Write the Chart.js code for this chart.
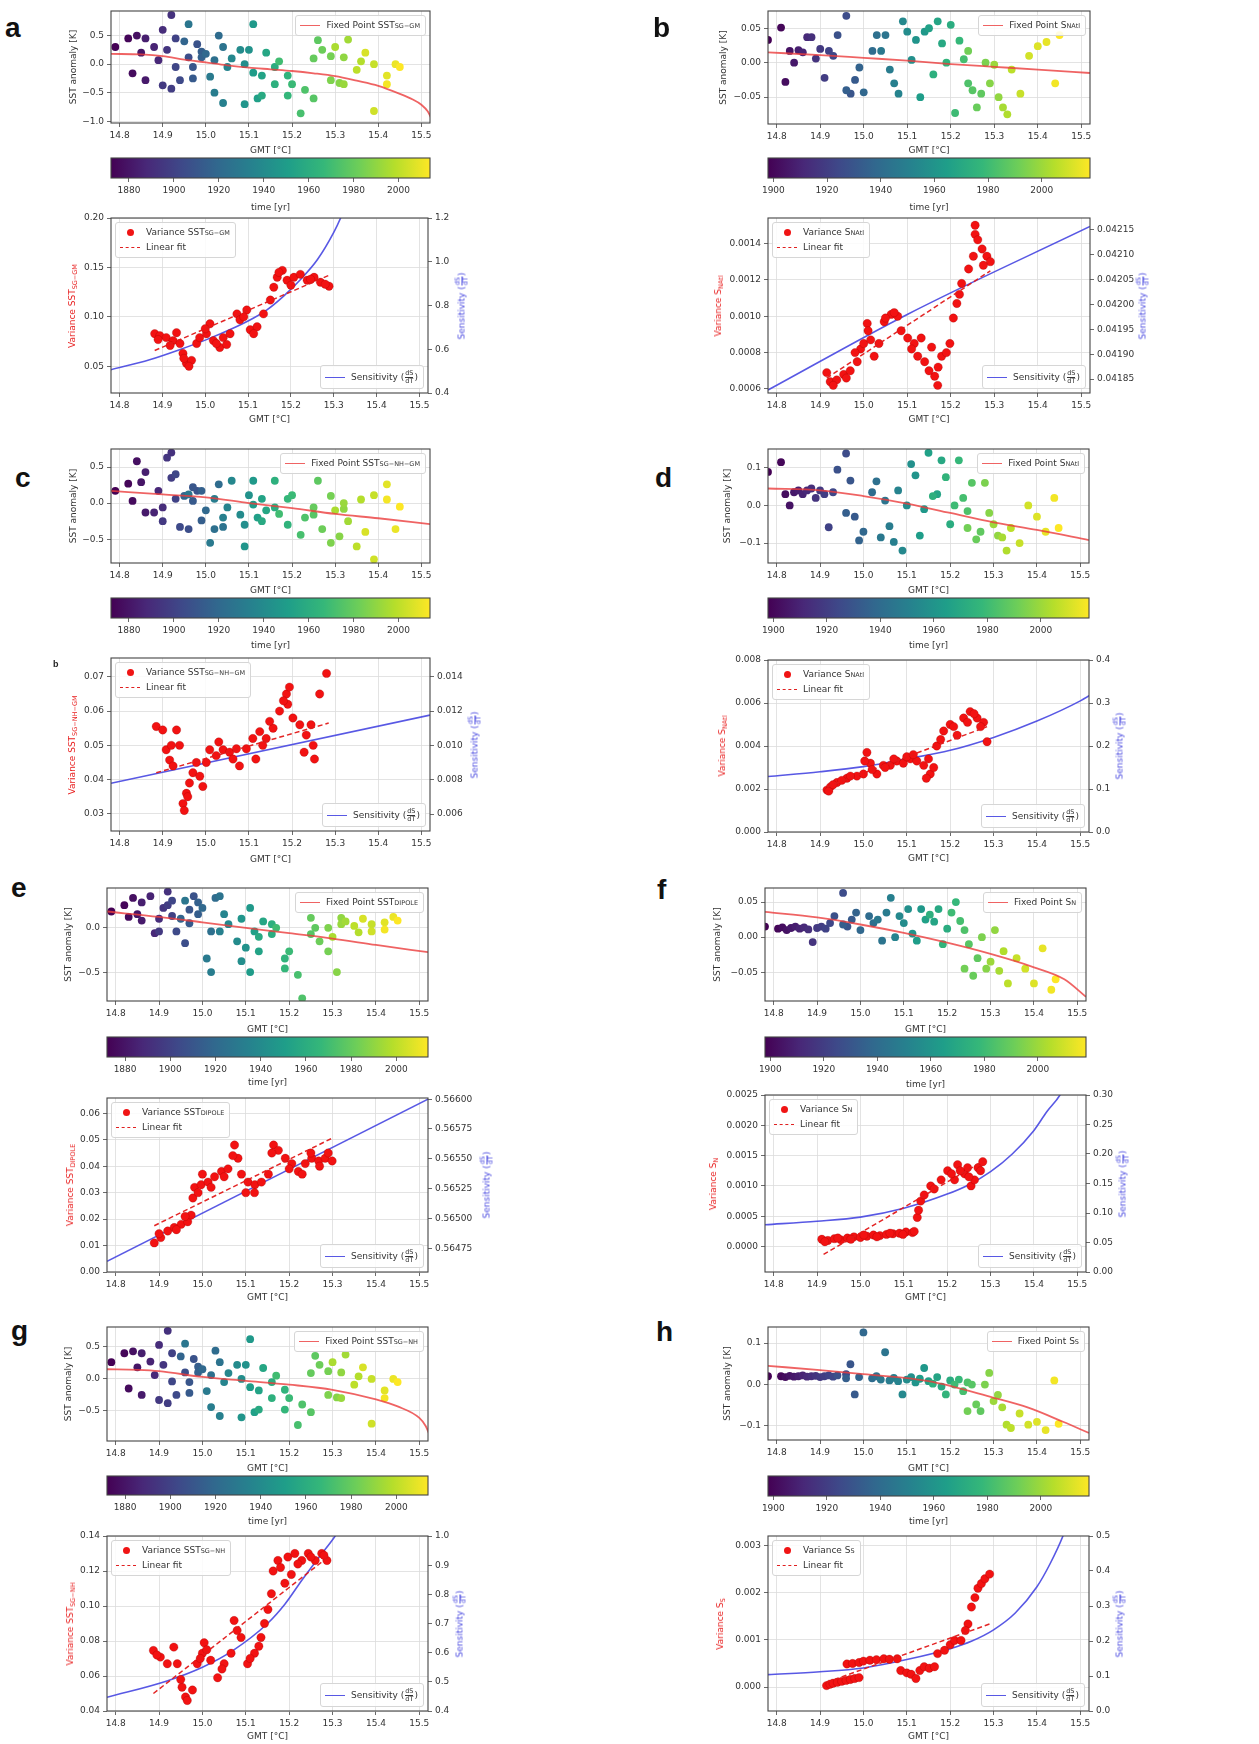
<!DOCTYPE html>
<html>
<head>
<meta charset="utf-8">
<title>Fixed point, variance and sensitivity vs GMT</title>
<script src="https://cdn.jsdelivr.net/npm/chart.js@4.4.1/dist/chart.umd.min.js"></script>
<style>
html,body{margin:0;padding:0;background:#fff}
body{position:relative;width:1259px;height:1744px;overflow:hidden;font-family:'DejaVu Sans',sans-serif;color:#333}
canvas{position:absolute}
.pl{position:absolute;font-family:'Liberation Sans',Arial,sans-serif;font-weight:bold;font-size:28px;line-height:28px;color:#111}
.sm{position:absolute;font-family:'Liberation Sans',Arial,sans-serif;font-weight:bold;font-size:9px;color:#222}
.yt{position:absolute;transform:translate(-50%,-50%) rotate(-90deg);white-space:nowrap;font-size:9px;line-height:12px}
.leg{position:absolute;background:rgba(255,255,255,0.85);border:1px solid #d6d6d6;border-radius:3px;padding:2px 5px 2px 4px;font-size:9px;line-height:11px;white-space:nowrap;color:#333}
.row{display:flex;align-items:center;min-height:15px}
.hd{width:20px;margin-right:6px;display:flex;justify-content:center;align-items:center;flex:none}
.ln{width:20px;height:0;border-top:1.8px solid rgba(235,60,60,0.8)}
.sl{width:20px;height:0;border-top:1.6px solid rgba(70,70,225,0.9)}
.dl{width:20px;height:0;border-top:1.6px dashed #e02020}
.dot{width:7px;height:7px;border-radius:50%;background:#f01414}
sub{font-size:6.5px;vertical-align:-2px;line-height:0}
.fr{display:inline-flex;flex-direction:column;align-items:center;vertical-align:middle;font-size:6.5px;line-height:7px;margin:0 1px}
.fr span:first-child{border-bottom:0.8px solid currentColor}
</style>
</head>
<body>
<script>
// ---------------- DATA ----------------
const gmtTicks = [14.8,14.9,15.0,15.1,15.2,15.3,15.4,15.5];
const yrTicksL = [1880,1900,1920,1940,1960,1980,2000];
const yrTicksR = [1900,1920,1940,1960,1980,2000];

const yearsL = [1872,1874,1876,1878,1880,1882,1884,1886,1888,1890,1892,1894,1896,1898,1900,1902,1904,1906,1908,1910,1912,1914,1916,1918,1920,1922,1924,1926,1928,1930,1932,1934,1936,1938,1940,1942,1944,1946,1948,1950,1952,1954,1956,1958,1960,1962,1964,1966,1968,1970,1972,1974,1976,1978,1980,1982,1984,1986,1988,1990,1992,1994,1996,1998,2000,2002,2004,2006,2008,2010,2012,2014];
const gmtL = [14.79,14.82,14.83,14.84,14.85,14.86,14.86,14.88,14.89,14.90,
  14.92,14.91,14.90,14.92,14.93,14.93,14.94,14.96,14.98,14.97,
  14.97,14.99,14.99,14.95,15.00,15.03,15.02,15.04,14.96,15.01,
  15.02,15.04,15.05,15.06,15.08,15.09,15.10,15.09,15.11,15.11,
  15.12,15.13,15.14,15.13,15.16,15.16,15.19,15.19,15.20,15.17,
  15.22,15.23,15.25,15.26,15.25,15.27,15.29,15.29,15.31,15.32,
  15.32,15.33,15.30,15.36,15.35,15.39,15.39,15.37,15.42,15.44,
  15.42,15.45];
const yearsR = [1898,1900,1902,1904,1906,1908,1910,1912,1914,1916,1918,1920,1922,1924,1926,1928,1930,1932,1934,1936,1938,1940,1942,1944,1946,1948,1950,1952,1954,1956,1958,1960,1962,1964,1966,1968,1970,1972,1974,1976,1978,1980,1982,1984,1986,1988,1990,1992,1994,1996,1998,2000,2002,2004,2006,2008,2010,2012,2014,2016,2018];
const gmtR = [14.78,14.81,14.82,14.83,14.84,14.85,14.86,14.87,14.88,14.89,
  14.90,14.91,14.92,14.93,14.96,14.94,14.97,14.98,14.96,14.99,
  15.00,15.02,15.03,15.05,15.04,15.06,15.07,15.08,15.09,15.10,
  15.11,15.12,15.14,15.13,15.15,15.17,15.18,15.20,15.16,15.19,
  15.22,15.21,15.23,15.24,15.25,15.27,15.26,15.24,15.28,15.29,
  15.31,15.30,15.32,15.33,15.34,15.36,15.38,15.40,15.42,15.44,
  15.45];

// SST / salinity anomalies (top panels)
const aSst = [0.30,0.45,-0.16,0.50,0.20,-0.28,0.45,0.30,0.07,0.60,
  0.86,0.25,-0.37,-0.43,0.45,-0.05,-0.28,0.12,0.35,-0.05,
  -0.25,0.22,0.12,0.40,0.18,0.50,0.07,0.30,0.70,-0.22,
  -0.50,-0.68,-0.05,0.10,0.25,0.00,0.25,-0.70,0.70,-0.15,
  -0.60,-0.20,0.20,-0.55,-0.05,-0.35,-0.20,-0.55,-0.35,0.05,
  -0.86,-0.45,-0.60,0.42,0.10,0.25,0.14,-0.28,-0.33,0.12,
  -0.35,0.43,0.30,0.05,-0.10,0.00,-0.82,0.20,-0.20,0.00,
  -0.35,-0.05];
const cSst = [0.17,0.27,0.03,0.58,0.29,-0.13,0.43,-0.13,0.17,-0.06,
  0.70,0.63,-0.25,0.35,0.06,0.40,-0.33,-0.36,0.17,0.22,
  0.03,-0.24,0.17,0.10,-0.10,0.26,-0.36,-0.33,0.12,-0.55,
  0.06,-0.20,-0.06,0.31,-0.16,-0.30,0.11,-0.60,0.31,-0.02,
  -0.20,0.06,-0.10,-0.25,-0.06,0.31,-0.30,0.06,0.11,-0.15,
  -0.44,-0.20,-0.16,0.31,-0.06,-0.36,0.10,-0.55,-0.46,-0.08,
  0.00,-0.25,-0.10,0.05,-0.60,0.11,-0.78,-0.40,0.26,-0.36,
  0.05,-0.05];
const eSst = [0.18,0.25,0.12,0.33,0.15,0.08,0.28,0.35,-0.06,0.10,
  0.40,0.22,-0.04,0.25,0.13,0.30,-0.04,-0.17,0.35,0.20,
  0.05,0.15,0.28,0.10,0.22,0.33,-0.04,0.35,0.30,-0.34,
  -0.49,-0.04,0.15,0.04,-0.15,-0.37,-0.22,0.10,0.22,-0.49,
  -0.04,-0.26,0.07,-0.10,-0.07,0.04,-0.34,-0.45,-0.26,0.00,
  -0.52,-0.78,-0.07,0.00,0.11,-0.15,-0.26,0.00,-0.49,0.11,
  0.04,0.07,-0.10,-0.05,0.02,0.04,-0.04,0.10,0.06,0.12,
  -0.02,0.08];
const gSst = [0.26,0.40,-0.15,0.43,0.18,-0.25,0.40,0.27,0.06,0.53,
  0.75,0.22,-0.33,-0.38,0.40,-0.04,-0.25,0.10,0.31,-0.05,
  -0.22,0.19,0.10,0.35,0.15,0.44,0.06,0.26,0.55,-0.19,
  -0.44,-0.58,-0.05,0.09,0.22,0.00,0.22,-0.60,0.62,-0.13,
  -0.52,-0.18,0.17,-0.48,-0.05,-0.30,-0.17,-0.48,-0.30,0.05,
  -0.72,-0.40,-0.52,0.36,0.09,0.22,0.12,-0.25,-0.29,0.10,
  -0.30,0.38,0.26,0.04,-0.09,0.00,-0.70,0.18,-0.18,0.00,
  -0.30,-0.05];
const bSst = [0.033,0.051,-0.028,0.017,0.000,0.018,0.015,0.037,0.037,0.006,
  0.020,-0.022,0.017,0.010,0.068,0.040,-0.045,-0.025,-0.040,-0.007,
  -0.043,0.017,0.040,0.040,0.017,-0.010,-0.030,-0.045,0.060,0.045,
  0.004,0.033,0.045,-0.050,0.050,0.060,0.028,0.055,-0.017,0.000,
  0.032,-0.073,0.005,-0.030,-0.040,-0.045,-0.065,0.017,0.000,-0.030,
  -0.050,-0.003,-0.065,-0.075,-0.010,-0.045,0.010,0.024,0.030,-0.030,
  0.040];
const dSst = [0.089,0.115,0.030,0.000,0.035,0.040,0.030,0.040,0.045,0.020,
  0.040,0.030,-0.058,0.035,0.138,0.095,0.066,-0.030,-0.020,-0.093,
  -0.070,0.035,0.064,0.013,-0.085,-0.055,-0.097,0.040,-0.120,0.000,
  0.110,0.080,-0.010,-0.080,0.140,0.030,0.120,-0.050,0.025,0.075,
  0.120,0.000,0.020,-0.015,0.060,-0.070,-0.090,-0.060,0.060,-0.020,
  -0.080,-0.050,-0.085,-0.120,-0.060,-0.100,0.000,-0.030,-0.070,0.020,
  -0.060];
const fSst = [0.015,0.012,0.014,0.010,0.013,0.015,0.012,0.014,0.011,-0.007,
  0.013,0.015,0.012,0.020,0.063,0.030,0.015,0.025,0.018,0.035,
  0.010,0.030,0.020,-0.005,0.025,0.035,0.056,0.000,0.030,0.020,
  0.040,0.005,0.040,-0.005,0.025,0.022,0.040,0.012,0.032,-0.010,
  0.050,0.035,0.023,0.010,-0.010,-0.030,-0.055,-0.045,0.000,-0.045,
  0.010,-0.035,-0.048,-0.020,-0.066,-0.030,-0.045,-0.066,-0.016,-0.075,
  -0.060];
const hSst = [0.020,0.020,0.018,0.021,0.019,0.020,0.022,0.019,0.020,0.021,
  0.018,0.020,0.022,0.019,0.025,0.022,0.049,-0.024,0.015,0.018,
  0.126,0.015,0.020,0.078,0.012,0.010,0.016,0.008,-0.024,0.012,
  0.018,0.005,0.040,0.014,0.008,0.018,-0.005,0.010,0.002,-0.024,
  0.012,0.000,-0.016,0.005,0.000,-0.064,-0.048,-0.064,0.000,0.028,
  -0.025,-0.040,-0.055,-0.097,-0.105,-0.070,-0.097,-0.090,-0.110,0.010,
  -0.095];

// fixed point curves
const aFixX = [14.78,14.85,14.9,14.95,15.0,15.05,15.1,15.15,15.2,15.25,15.3,15.35,15.4,15.45,15.48,15.5,15.515,15.525];
const aFixY = [0.18,0.17,0.14,0.08,0.03,-0.02,-0.06,-0.09,-0.12,-0.16,-0.21,-0.29,-0.38,-0.52,-0.62,-0.71,-0.83,-0.98];
const bFixX = [14.78,14.9,15.0,15.1,15.2,15.3,15.4,15.52];
const bFixY = [0.015,0.011,0.007,0.003,-0.002,-0.006,-0.010,-0.015];
const cFixX = [14.78,14.9,15.0,15.1,15.2,15.3,15.4,15.52];
const cFixY = [0.17,0.12,0.08,0.0,-0.07,-0.15,-0.21,-0.29];
const dFixX = [14.78,14.9,15.0,15.1,15.2,15.3,15.4,15.52];
const dFixY = [0.045,0.04,0.025,0.005,-0.02,-0.045,-0.065,-0.092];
const eFixX = [14.78,14.9,15.0,15.1,15.2,15.3,15.4,15.52];
const eFixY = [0.18,0.12,0.06,0.0,-0.06,-0.12,-0.19,-0.27];
const fFixX = [14.78,14.9,15.0,15.1,15.2,15.3,15.4,15.47,15.52];
const fFixY = [0.036,0.028,0.018,0.006,-0.008,-0.024,-0.043,-0.06,-0.085];
const gFixX = [14.78,14.85,14.9,15.0,15.1,15.2,15.3,15.4,15.45,15.5,15.515,15.525];
const gFixY = [0.15,0.14,0.12,0.03,-0.03,-0.09,-0.17,-0.32,-0.43,-0.61,-0.74,-0.9];
const hFixX = [14.78,14.9,15.0,15.15,15.3,15.38,15.46,15.52];
const hFixY = [0.045,0.035,0.025,0.008,-0.032,-0.056,-0.09,-0.117];

// variance (rolling) vs smoothed GMT
const aVarX = [14.882,14.894,14.909,14.925,14.933,14.941,14.948,14.956,14.968,14.98,14.987,15.003,15.011,15.019,15.034,15.042,15.058,15.074,15.081,15.097,15.105,15.121,15.136,15.152,15.16,15.168,15.18,15.191,15.207,15.222,15.238,15.254,15.269,15.289,14.89,14.95,14.962,15.0,15.05,15.09,15.113,15.172,15.2,15.246,15.28,14.918,15.026];
const aVarY = [0.083,0.081,0.079,0.076,0.084,0.073,0.063,0.053,0.056,0.073,0.079,0.083,0.093,0.076,0.069,0.079,0.083,0.103,0.097,0.107,0.087,0.090,0.103,0.117,0.130,0.140,0.147,0.137,0.140,0.143,0.137,0.140,0.135,0.131,0.077,0.058,0.050,0.088,0.072,0.100,0.083,0.145,0.132,0.138,0.133,0.071,0.073];
const bVarX = [14.915,14.923,14.938,14.954,14.969,14.985,14.993,15.0,15.008,15.016,15.024,15.035,15.047,15.063,15.078,15.086,15.101,15.116,15.124,15.132,15.14,15.156,15.163,15.171,15.179,15.198,15.206,15.214,15.225,15.241,15.252,15.256,15.256,15.272,15.283,15.291,14.93,14.96,14.98,15.01,15.05,15.07,15.11,15.15,15.17,15.19,15.22,15.262,15.275];
const bVarY = [0.00069,0.00064,0.00065,0.00068,0.00070,0.00075,0.00082,0.00085,0.00096,0.00087,0.00078,0.00085,0.00097,0.00101,0.00100,0.00092,0.00088,0.00085,0.00078,0.00088,0.00075,0.00083,0.00067,0.00072,0.00078,0.00085,0.00099,0.00107,0.00118,0.00126,0.00133,0.00150,0.00145,0.00137,0.00133,0.00130,0.00062,0.00066,0.00080,0.00092,0.00099,0.00102,0.00082,0.00070,0.00062,0.00080,0.00112,0.00142,0.00128];
const cVarX = [14.885,14.9,14.908,14.916,14.924,14.932,14.939,14.947,14.955,14.962,14.97,14.978,14.986,14.993,15.001,15.009,15.024,15.04,15.055,15.071,15.078,15.094,15.109,15.125,15.14,15.156,15.171,15.187,15.194,15.19,15.202,15.218,15.233,15.249,15.252,15.264,15.28,14.95,14.958,14.92,15.03,15.063,15.132,15.148,15.18,15.228,15.244,15.116];
const cVarY = [0.0555,0.0545,0.0487,0.0457,0.0440,0.0545,0.0500,0.0330,0.0360,0.0390,0.0420,0.0450,0.0410,0.0380,0.0450,0.0487,0.0470,0.0487,0.0480,0.0490,0.0440,0.0490,0.0520,0.0540,0.0520,0.0550,0.0600,0.0650,0.0670,0.0620,0.0580,0.0560,0.0530,0.0500,0.0460,0.0650,0.0710,0.0310,0.0350,0.0500,0.0510,0.0460,0.0500,0.0570,0.0630,0.0480,0.0560,0.0460];
const dVarX = [14.916,14.924,14.939,14.962,14.985,15.0,15.008,15.016,15.031,15.046,15.062,15.077,15.092,15.108,15.123,15.139,15.154,15.162,15.169,15.185,15.2,15.216,15.231,15.246,15.262,15.277,15.285,14.92,14.93,14.95,14.97,15.003,15.02,15.05,15.07,15.1,15.115,15.145,15.15,15.178,15.208,15.24,15.255,15.27];
const dVarY = [0.00195,0.0021,0.0023,0.0025,0.0026,0.0027,0.0037,0.0032,0.0027,0.0031,0.0031,0.0033,0.0032,0.0034,0.0033,0.0031,0.0027,0.0030,0.0040,0.0047,0.0050,0.0045,0.0053,0.0056,0.0053,0.0051,0.0042,0.0019,0.0022,0.0024,0.0026,0.0033,0.0029,0.0030,0.0034,0.0035,0.0036,0.0025,0.0034,0.0043,0.0049,0.0051,0.0055,0.0049];
const eVarX = [14.889,14.904,14.92,14.935,14.951,14.966,14.974,14.978,14.982,14.997,15.013,15.028,15.044,15.059,15.074,15.082,15.09,15.105,15.121,15.136,15.152,15.164,15.175,15.191,15.206,15.221,15.237,15.252,15.268,15.283,15.299,14.9,14.94,14.96,14.99,15.0,15.02,15.05,15.07,15.1,15.12,15.16,15.2,15.23,15.25,15.27,15.29];
const eVarY = [0.011,0.013,0.0155,0.0168,0.018,0.019,0.0215,0.028,0.032,0.033,0.034,0.036,0.038,0.039,0.048,0.043,0.037,0.034,0.033,0.034,0.037,0.048,0.046,0.043,0.041,0.038,0.041,0.043,0.042,0.043,0.042,0.0145,0.016,0.021,0.030,0.037,0.032,0.036,0.044,0.030,0.030,0.045,0.039,0.037,0.045,0.040,0.045];
const fVarX = [14.911,14.925,14.94,14.955,14.97,14.985,15.0,15.015,15.03,15.045,15.06,15.075,15.09,15.105,15.12,15.124,15.131,15.134,15.139,15.147,15.162,15.17,15.186,15.201,15.217,15.224,15.24,15.247,15.255,15.263,15.271,15.282,15.21,15.23,15.25,15.277,14.918,14.948,14.978,15.008,15.038,15.068,15.098];
const fVarY = [0.00012,0.00010,0.00013,0.00011,0.00014,0.00016,0.00015,0.00017,0.00019,0.00018,0.00020,0.00021,0.00022,0.00024,0.00023,0.00025,0.00048,0.00060,0.00075,0.00085,0.00100,0.00095,0.00110,0.00125,0.00110,0.00135,0.00120,0.00130,0.00100,0.00110,0.00130,0.00140,0.00120,0.00125,0.00115,0.00125,0.00008,0.00014,0.00012,0.00019,0.00016,0.00022,0.00020];
const gVarX = [14.887,14.903,14.919,14.934,14.942,14.953,14.961,14.977,14.988,15.0,15.004,15.019,15.035,15.05,15.066,15.073,15.089,15.104,15.12,15.135,15.143,15.151,15.159,15.163,15.174,15.19,15.197,15.213,15.229,15.244,15.26,15.275,15.287,14.895,14.95,14.965,14.995,15.01,15.045,15.08,15.11,15.13,15.18,15.205,15.22,15.25,15.28];
const gVarY = [0.0746,0.0708,0.0670,0.0765,0.0670,0.0536,0.0480,0.0520,0.0670,0.0730,0.0790,0.0690,0.0590,0.0670,0.0730,0.0917,0.0820,0.0670,0.0730,0.0820,0.0900,0.0980,0.1070,0.1200,0.1260,0.1130,0.1280,0.1300,0.1260,0.1300,0.1260,0.1300,0.1260,0.0720,0.0580,0.0460,0.0700,0.0750,0.0640,0.0860,0.0700,0.0770,0.1220,0.1180,0.1240,0.1280,0.1290];
const hVarX = [14.915,14.923,14.93,14.94,14.95,14.96,14.97,14.98,14.99,14.962,14.975,14.99,15.0,15.015,15.03,15.047,15.06,15.078,15.086,15.1,15.11,15.121,15.13,15.14,15.152,15.164,15.171,15.187,15.2,15.21,15.225,15.241,15.249,15.257,15.264,15.272,15.28,15.291,15.235];
const hVarY = [0.00003,0.00006,0.00008,0.00010,0.00012,0.00014,0.00016,0.00018,0.00020,0.00049,0.00050,0.00052,0.00055,0.00057,0.00058,0.00060,0.00059,0.00060,0.00035,0.00030,0.00027,0.00018,0.00035,0.00043,0.00040,0.00043,0.00071,0.00078,0.00090,0.00099,0.00099,0.00134,0.00170,0.00190,0.00210,0.00220,0.00230,0.00240,0.00120];

// linear fits
const aFitX = [14.882,15.289], aFitY = [0.066,0.142];
const bFitX = [14.915,15.291], bFitY = [0.00066,0.00125];
const cFitX = [14.885,15.285], cFitY = [0.042,0.0565];
const dFitX = [14.916,15.285], dFitY = [0.0021,0.0049];
const eFitX = [14.889,15.299], eFitY = [0.0175,0.0506];
const fFitX = [14.915,15.285], fFitY = [-0.00013,0.00142];
const gFitX = [14.887,15.29], gFitY = [0.05,0.128];
const hFitX = [14.915,15.291], hFitY = [0.0001,0.00134];

// sensitivity dS/dT
const aSensX = [14.779,14.87,14.94,15.003,15.066,15.113,15.144,15.183,15.223,15.262,15.3,15.316,15.33];
const aSensY = [0.506,0.552,0.598,0.644,0.697,0.743,0.78,0.843,0.92,1.01,1.134,1.2,1.27];
const bSensX = [14.78,15.1,15.52], bSensY = [0.041828,0.04198,0.042157];
const cSensX = [14.78,15.52], cSensY = [0.00779,0.01177];
const dSensX = [14.78,14.9,15.0,15.1,15.2,15.3,15.4,15.5,15.53];
const dSensY = [0.129,0.14,0.152,0.17,0.19,0.22,0.258,0.305,0.323];
const eSensX = [14.78,15.52], eSensY = [0.56464,0.566];
const fSensX = [14.78,14.9,15.0,15.1,15.2,15.25,15.3,15.35,15.4,15.43,15.46,15.48];
const fSensY = [0.08,0.086,0.093,0.108,0.132,0.148,0.17,0.2,0.24,0.272,0.30,0.33];
const gSensX = [14.78,14.92,15.0,15.07,15.15,15.19,15.23,15.27,15.306,15.33];
const gSensY = [0.447,0.504,0.55,0.607,0.7,0.766,0.85,0.93,1.0,1.06];
const hSensX = [14.78,14.9,15.0,15.1,15.2,15.25,15.3,15.35,15.4,15.43,15.46,15.48];
const hSensY = [0.104,0.112,0.123,0.147,0.178,0.2,0.232,0.28,0.355,0.42,0.5,0.57];

// tick labels
const aSstTicks=[-1.0,-0.5,0.0,0.5], bSstTicks=[-0.05,0,0.05], cSstTicks=[-0.5,0,0.5], dSstTicks=[-0.1,0,0.1];
const eSstTicks=[-0.5,0], fSstTicks=[-0.05,0,0.05], gSstTicks=[-0.5,0,0.5], hSstTicks=[-0.1,0,0.1];
const aVarTicks=[0.05,0.10,0.15,0.20], bVarTicks=[0.0006,0.0008,0.0010,0.0012,0.0014], cVarTicks=[0.03,0.04,0.05,0.06,0.07];
const dVarTicks=[0,0.002,0.004,0.006,0.008], eVarTicks=[0,0.01,0.02,0.03,0.04,0.05,0.06], fVarTicks=[0,0.0005,0.001,0.0015,0.002,0.0025];
const gVarTicks=[0.04,0.06,0.08,0.10,0.12,0.14], hVarTicks=[0,0.001,0.002,0.003];
const aSensTicks=[0.4,0.6,0.8,1.0,1.2], bSensTicks=[0.04185,0.0419,0.04195,0.042,0.04205,0.0421,0.04215], cSensTicks=[0.006,0.008,0.010,0.012,0.014];
const dSensTicks=[0,0.1,0.2,0.3,0.4], eSensTicks=[0.56475,0.565,0.56525,0.5655,0.56575,0.566], fSensTicks=[0,0.05,0.10,0.15,0.20,0.25,0.30];
const gSensTicks=[0.4,0.5,0.6,0.7,0.8,0.9,1.0], hSensTicks=[0,0.1,0.2,0.3,0.4,0.5];

// ---------------- PANELS ----------------
const PANELS = [
 {id:'a',col:'L',name:'SST<sub>SG\u2212GM</sub>',sst:aSst,sstT:aSstTicks,sstD:1,sstR:[-1.03,0.93],fx:aFixX,fy:aFixY,vx:aVarX,vy:aVarY,ftx:aFitX,fty:aFitY,sx:aSensX,sy:aSensY,vT:aVarTicks,vD:2,vR:[0.023,0.20],sT:aSensTicks,sD:1,sR:[0.4,1.2]},
 {id:'b',col:'R',name:'S<sub>NAtl</sub>',sst:bSst,sstT:bSstTicks,sstD:2,sstR:[-0.089,0.075],fx:bFixX,fy:bFixY,vx:bVarX,vy:bVarY,ftx:bFitX,fty:bFitY,sx:bSensX,sy:bSensY,vT:bVarTicks,vD:4,vR:[0.000578,0.00154],sT:bSensTicks,sD:5,sR:[0.041822,0.042174]},
 {id:'c',col:'L',name:'SST<sub>SG\u2212NH\u2212GM</sub>',sst:cSst,sstT:cSstTicks,sstD:1,sstR:[-0.83,0.75],fx:cFixX,fy:cFixY,vx:cVarX,vy:cVarY,ftx:cFitX,fty:cFitY,sx:cSensX,sy:cSensY,vT:cVarTicks,vD:2,vR:[0.025,0.0755],sT:cSensTicks,sD:3,sR:[0.00501,0.0151]},
 {id:'d',col:'R',name:'S<sub>NAtl</sub>',sst:dSst,sstT:dSstTicks,sstD:1,sstR:[-0.153,0.15],fx:dFixX,fy:dFixY,vx:dVarX,vy:dVarY,ftx:dFitX,fty:dFitY,sx:dSensX,sy:dSensY,vT:dVarTicks,vD:3,vR:[0,0.008],sT:dSensTicks,sD:1,sR:[0,0.4]},
 {id:'e',col:'L',name:'SST<sub>DIPOLE</sub>',sst:eSst,sstT:eSstTicks,sstD:1,sstR:[-0.81,0.44],fx:eFixX,fy:eFixY,vx:eVarX,vy:eVarY,ftx:eFitX,fty:eFitY,sx:eSensX,sy:eSensY,vT:eVarTicks,vD:2,vR:[0,0.0658],sT:eSensTicks,sD:5,sR:[0.56455,0.56601]},
 {id:'f',col:'R',name:'S<sub>N</sub>',sst:fSst,sstT:fSstTicks,sstD:2,sstR:[-0.091,0.07],fx:fFixX,fy:fFixY,vx:fVarX,vy:fVarY,ftx:fFitX,fty:fFitY,sx:fSensX,sy:fSensY,vT:fVarTicks,vD:4,vR:[-0.00042,0.0025],sT:fSensTicks,sD:2,sR:[0,0.30]},
 {id:'g',col:'L',name:'SST<sub>SG\u2212NH</sub>',sst:gSst,sstT:gSstTicks,sstD:1,sstR:[-0.97,0.81],fx:gFixX,fy:gFixY,vx:gVarX,vy:gVarY,ftx:gFitX,fty:gFitY,sx:gSensX,sy:gSensY,vT:gVarTicks,vD:2,vR:[0.04,0.14],sT:gSensTicks,sD:1,sR:[0.4,1.0]},
 {id:'h',col:'R',name:'S<sub>S</sub>',sst:hSst,sstT:hSstTicks,sstD:1,sstR:[-0.134,0.139],fx:hFixX,fy:hFixY,vx:hVarX,vy:hVarY,ftx:hFitX,fty:hFitY,sx:hSensX,sy:hSensY,vT:hVarTicks,vD:3,vR:[-0.00051,0.00321],sT:hSensTicks,sD:1,sR:[0,0.5]}
];

// ---------------- LAYOUT (pixel boxes of plot areas) ----------------
const LAYOUT = {
 a:{top:{L:111,R:430,T:11,B:123},yT:73,xT:151,cb:{L:111,R:430,T:158,B:178},cbT:208,bot:{L:111,R:428,T:218,B:393},bxT:420,lT:72,rT:462,lab:[5,14]},
 b:{top:{L:768,R:1090,T:11,B:124},yT:723,xT:151,cb:{L:768,R:1090,T:158,B:178},cbT:208,bot:{L:768,R:1090,T:218,B:393},bxT:420,lT:718,rT:1143,lab:[653,14]},
 c:{top:{L:111,R:430,T:449,B:563},yT:73,xT:591,cb:{L:111,R:430,T:598,B:618},cbT:646,bot:{L:111,R:430,T:658,B:831},bxT:860,lT:72,rT:475,lab:[15,464]},
 d:{top:{L:768,R:1089,T:449,B:563},yT:727,xT:591,cb:{L:768,R:1089,T:598,B:618},cbT:646,bot:{L:768,R:1089,T:660,B:832},bxT:859,lT:722,rT:1120,lab:[655,464]},
 e:{top:{L:107,R:428,T:888,B:1001},yT:68,xT:1030,cb:{L:107,R:428,T:1037,B:1057},cbT:1083,bot:{L:107,R:428,T:1098,B:1272},bxT:1298,lT:70,rT:487,lab:[11,874]},
 f:{top:{L:765,R:1086,T:888,B:1001},yT:717,xT:1030,cb:{L:765,R:1086,T:1037,B:1057},cbT:1085,bot:{L:765,R:1086,T:1095,B:1272},bxT:1298,lT:713,rT:1123,lab:[657,876]},
 g:{top:{L:107,R:428,T:1327,B:1441},yT:68,xT:1469,cb:{L:107,R:428,T:1476,B:1495},cbT:1522,bot:{L:107,R:428,T:1536,B:1711},bxT:1737,lT:70,rT:460,lab:[11,1317]},
 h:{top:{L:768,R:1089,T:1327,B:1440},yT:727,xT:1469,cb:{L:768,R:1089,T:1476,B:1496},cbT:1522,bot:{L:768,R:1089,T:1536,B:1711},bxT:1737,lT:720,rT:1120,lab:[656,1318]}
};

// ---------------- RENDER ----------------
Chart.defaults.font.family = "'DejaVu Sans', sans-serif";
Chart.defaults.font.size = 9;
Chart.defaults.color = '#333';
Chart.defaults.animation = false;

const GRID = '#dcdcdc', AXC = '#444';
const FIXC = 'rgba(235,60,60,0.8)', SENC = 'rgba(70,70,225,0.9)', FITC = 'rgba(225,25,25,0.95)';
const VIR = ['#440154','#482878','#3e4989','#31688e','#26828e','#1f9e89','#35b779','#6ece58','#b5de2b','#fde725'];
function hex(h){return [1,3,5].map(i=>parseInt(h.substr(i,2),16));}
function viridis(t){
  t=Math.max(0,Math.min(1,t)); const n=VIR.length-1;
  const i=Math.min(n-1,Math.floor(t*n)), f=t*n-i, a=hex(VIR[i]), b=hex(VIR[i+1]);
  return 'rgb('+a.map((v,k)=>Math.round(v+(b[k]-v)*f)).join(',')+')';
}
function fmt(d){return v=>{let s=(+v).toFixed(d); if(+s===0) s=s.replace('-',''); return s.replace('-','\u2212');};}
const pts=(xs,ys)=>xs.map((x,i)=>({x:x,y:ys[i]}));

function canvas(x,y,w,h){
  const c=document.createElement('canvas');
  c.width=w;c.height=h;c.style.left=x+'px';c.style.top=y+'px';c.style.width=w+'px';c.style.height=h+'px';
  document.body.appendChild(c);return c;
}
const frame={id:'frame',afterDatasetsDraw(c){const a=c.chartArea,x=c.ctx;x.save();x.strokeStyle=AXC;x.lineWidth=1.1;x.strokeRect(a.left,a.top,a.right-a.left,a.bottom-a.top);x.restore();}};
const grad={id:'grad',beforeDatasetsDraw(c){const a=c.chartArea,x=c.ctx;const g=x.createLinearGradient(a.left,0,a.right,0);VIR.forEach((col,i)=>g.addColorStop(i/(VIR.length-1),col));x.save();x.fillStyle=g;x.fillRect(a.left,a.top,a.right-a.left,a.bottom-a.top);x.restore();}};

function axis(o){
  const horiz=o.pos==='bottom';
  return {type:'linear',position:o.pos,min:o.min,max:o.max,bounds:'data',
    afterBuildTicks:s=>{s.ticks=o.ticks.map(v=>({value:v}));},
    afterFit:s=>{if(horiz){s.height=o.size;s.paddingLeft=0;s.paddingRight=0;}else{s.width=o.size;s.paddingTop=0;s.paddingBottom=0;}},
    ticks:{callback:o.fmt,autoSkip:false,maxRotation:0,minRotation:0,padding:3,color:'#333',font:{size:9}},
    grid:{display:true,drawOnChartArea:o.grid!==false,color:GRID,lineWidth:0.8,tickColor:AXC,tickLength:4},
    border:{display:false},
    title:o.title?{display:true,text:o.title,padding:0,color:'#333',font:{size:9}}:{display:false}
  };
}
function baseOpts(pad,scales){
  return {responsive:false,maintainAspectRatio:false,animation:false,events:[],
    layout:{padding:pad},plugins:{legend:{display:false},tooltip:{enabled:false}},scales:scales};
}

function topChart(Lo,P,xs,yrs){
  const r=Lo.top,w=r.R-r.L,h=r.B-r.T;
  const cl=Math.round(Lo.yT-5.4),axL=r.L-cl,ct=r.T-7,ch=Math.round(Lo.xT+5.4-ct),axB=ch-7-h;
  const y0=Math.min(...yrs),y1=Math.max(...yrs);
  const cols=yrs.map(y=>viridis((y-y0)/(y1-y0)));
  new Chart(canvas(cl,ct,axL+w+4,ch),{type:'scatter',
    data:{datasets:[
      {data:pts(P.fx,P.fy),showLine:true,pointRadius:0,borderColor:FIXC,borderWidth:1.8,cubicInterpolationMode:'monotone',order:0,clip:0},
      {data:pts(xs,P.sst),pointRadius:3.9,backgroundColor:cols,pointBackgroundColor:cols,pointBorderWidth:0,borderWidth:0,order:1,clip:0}
    ]},
    options:baseOpts({top:7,right:4,left:0,bottom:0},{
      x:axis({pos:'bottom',ticks:gmtTicks,fmt:fmt(1),min:14.78,max:15.52,size:axB,title:'GMT [\u00b0C]'}),
      y:axis({pos:'left',ticks:P.sstT,fmt:fmt(P.sstD),min:P.sstR[0],max:P.sstR[1],size:axL,title:'SST anomaly [K]'})
    }),plugins:[frame]});
}
function colorbar(Lo,yrs,ticks){
  const r=Lo.cb,w=r.R-r.L,h=r.B-r.T;
  const cl=r.L-14,ct=r.T-2,ch=Math.round(Lo.cbT+5.4-ct),axB=ch-2-h;
  const xa=axis({pos:'bottom',ticks:ticks,fmt:fmt(0),min:Math.min(...yrs),max:Math.max(...yrs),size:axB,title:'time [yr]',grid:false});
  new Chart(canvas(cl,ct,w+28,ch),{type:'scatter',data:{datasets:[{data:[]}]},
    options:baseOpts({top:2,right:14,left:14,bottom:0},{x:xa,y:{display:false,min:0,max:1}}),
    plugins:[grad,frame]});
}
function bottomChart(Lo,P){
  const r=Lo.bot,w=r.R-r.L,h=r.B-r.T;
  const axL=48,axR=52,cl=r.L-axL,ct=r.T-8,ch=Math.round(Lo.bxT+5.4-ct),axB=ch-8-h;
  new Chart(canvas(cl,ct,axL+w+axR,ch),{type:'scatter',
    data:{datasets:[
      {data:pts(P.ftx,P.fty),showLine:true,pointRadius:0,borderColor:FITC,borderWidth:1.5,borderDash:[5,3],order:0,clip:0},
      {data:pts(P.vx,P.vy),pointRadius:4.2,pointBackgroundColor:'rgb(242,18,18)',backgroundColor:'rgb(242,18,18)',pointBorderColor:'rgba(150,0,0,0.45)',borderColor:'rgba(150,0,0,0.45)',pointBorderWidth:0.6,order:1,clip:0},
      {data:pts(P.sx,P.sy),showLine:true,pointRadius:0,borderColor:SENC,borderWidth:1.6,cubicInterpolationMode:'monotone',yAxisID:'y1',order:2,clip:0}
    ]},
    options:baseOpts({top:8,right:0,left:0,bottom:0},{
      x:axis({pos:'bottom',ticks:gmtTicks,fmt:fmt(1),min:14.78,max:15.52,size:axB,title:'GMT [\u00b0C]'}),
      y:axis({pos:'left',ticks:P.vT,fmt:fmt(P.vD),min:P.vR[0],max:P.vR[1],size:axL}),
      y1:axis({pos:'right',ticks:P.sT,fmt:fmt(P.sD),min:P.sR[0],max:P.sR[1],size:axR,grid:false})
    }),plugins:[frame]});
}
function div(cls,html,st){const d=document.createElement('div');d.className=cls;d.innerHTML=html;Object.assign(d.style,st);document.body.appendChild(d);return d;}
const FR='<span class="fr"><span>dS</span><span>dT</span></span>';

for(const P of PANELS){
  const Lo=LAYOUT[P.id];
  const xs=P.col==='L'?gmtL:gmtR, yrs=P.col==='L'?yearsL:yearsR;
  topChart(Lo,P,xs,yrs);
  colorbar(Lo,yrs,P.col==='L'?yrTicksL:yrTicksR);
  bottomChart(Lo,P);
  div('pl',P.id,{left:Lo.lab[0]+'px',top:Lo.lab[1]+'px'});
  div('leg','<div class="row"><span class="hd"><span class="ln"></span></span>Fixed Point '+P.name+'</div>',
      {right:(1259-Lo.top.R+4)+'px',top:(Lo.top.T+4)+'px'});
  div('leg','<div class="row"><span class="hd"><span class="dot"></span></span>Variance '+P.name+'</div><div class="row"><span class="hd"><span class="dl"></span></span>Linear fit</div>',
      {left:(Lo.bot.L+4)+'px',top:(Lo.bot.T+4)+'px'});
  div('leg','<div class="row" style="min-height:18px"><span class="hd"><span class="sl"></span></span>Sensitivity ('+FR+')</div>',
      {right:(1259-Lo.bot.R+4)+'px',bottom:(1744-Lo.bot.B+4)+'px'});
  const mid=((Lo.bot.T+Lo.bot.B)/2)+'px';
  div('yt','Variance '+P.name,{left:Lo.lT+'px',top:mid,color:'#e82020'});
  div('yt','Sensitivity ('+FR+')',{left:Lo.rT+'px',top:mid,color:'#4a4ae0'});
}
div('sm','b',{left:'53px',top:'659px'});
</script>
</body>
</html>
